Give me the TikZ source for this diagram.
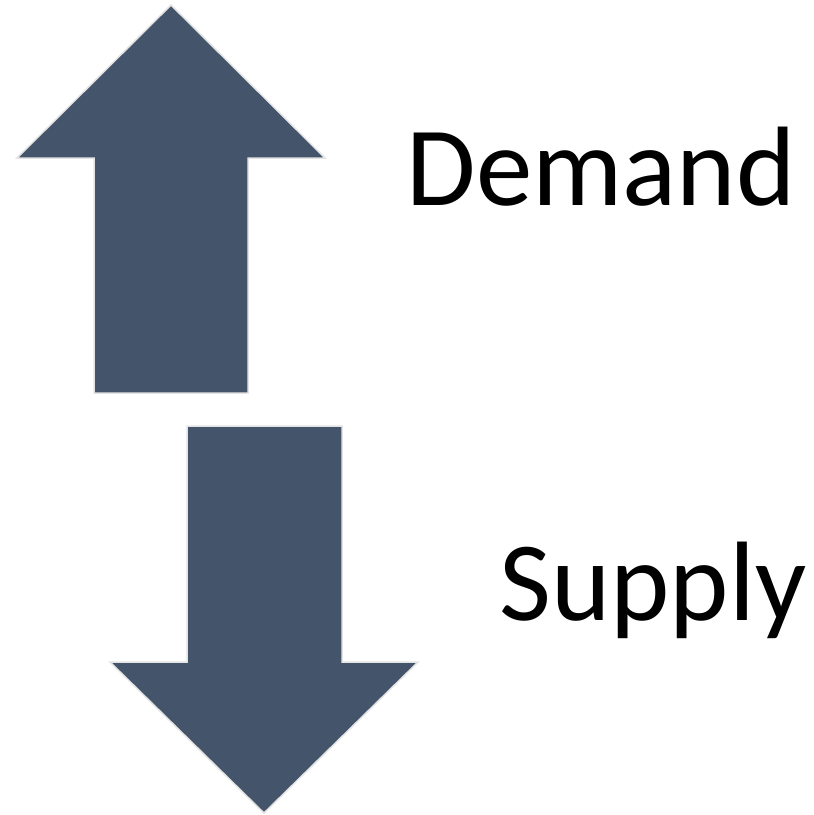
\documentclass[tikz,border=0pt]{standalone}
\usepackage{fontspec}
\setmainfont{Carlito}
\definecolor{arrowfill}{HTML}{44546A}
\definecolor{arrowedge}{HTML}{E4E4E4}
\begin{document}
\begin{tikzpicture}[x=1pt,y=-1pt,
  bigarrow/.style={fill=arrowfill,draw=arrowedge,line width=1.5pt,line join=miter},
  label/.style={anchor=base,inner sep=0pt,font=\fontsize{113}{120}\selectfont}]
\useasboundingbox (0,0) rectangle (814,815);
% up arrow
\draw[bigarrow] (171,5) -- (325,158) -- (248,158) -- (248,393) -- (94,393) -- (94,158) -- (17,158) -- cycle;
% down arrow
\draw[bigarrow] (187,426) -- (342,426) -- (342,662) -- (418,662) -- (264,813) -- (110,662) -- (187,662) -- cycle;
\node[label] (demand) at (601,205) {Demand};
\node[label] (supply) at (653,620) {Supply};
\end{tikzpicture}
\end{document}
